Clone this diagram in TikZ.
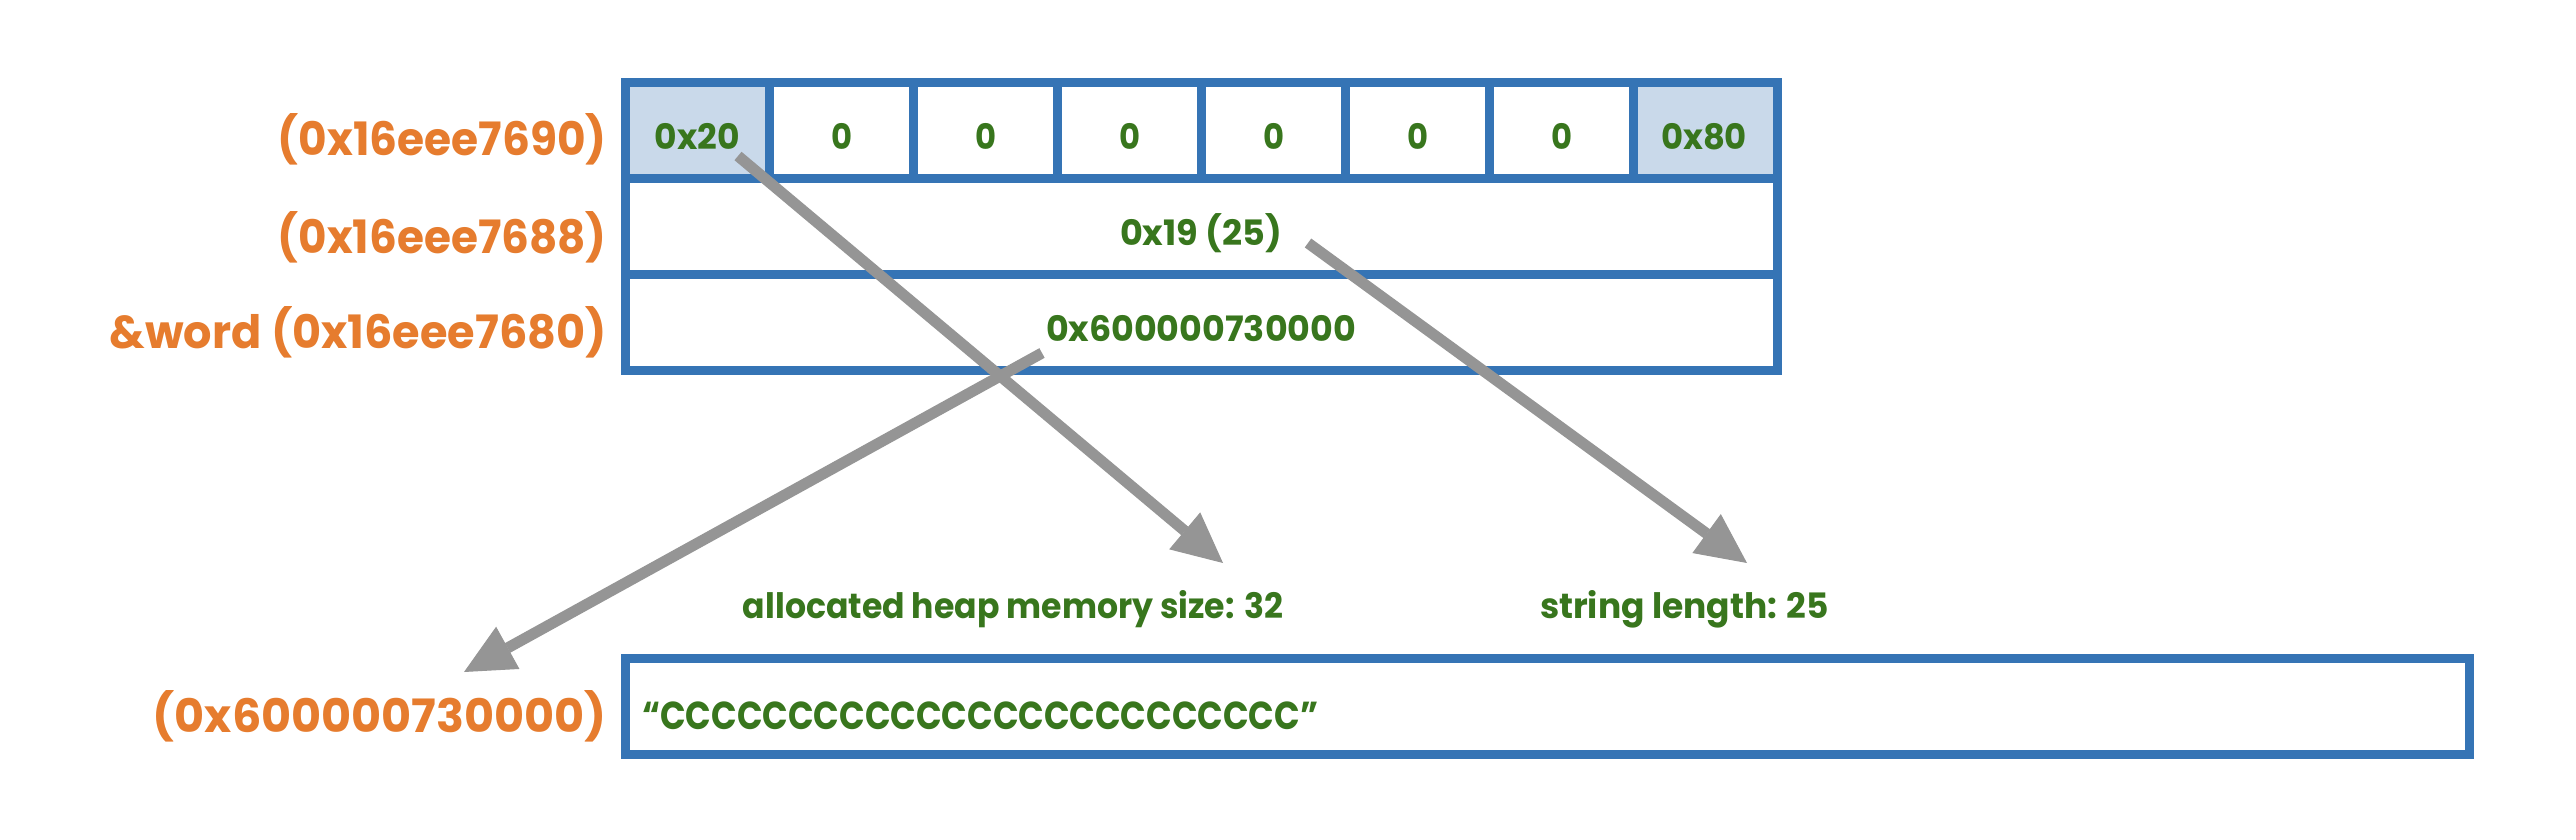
\documentclass[tikz,border=0pt]{standalone}
\usepackage{fontspec}
\setmainfont{Poppins}
\usetikzlibrary{arrows.meta}
\definecolor{cblue}{HTML}{3574B5}
\definecolor{cfill}{HTML}{C9D9EA}
\definecolor{cgreen}{HTML}{38761D}
\definecolor{corange}{HTML}{E67C2E}
\definecolor{cgray}{HTML}{959595}
\newcommand\fw[2]{\resizebox{#1}{\height}{#2}}
\begin{document}
\begin{tikzpicture}[x=1pt,y=-1pt,
  cell/.style={draw=cblue, line width=9pt, minimum width=144pt, minimum height=96pt, inner sep=0pt, outer sep=0pt},
  hl/.style={fill=cfill},
  val/.style={text=cgreen, font=\fontsize{35}{35}\selectfont\bfseries, anchor=base, inner sep=0pt},
  addr/.style={text=corange, font=\fontsize{46}{46}\selectfont\bfseries, anchor=base east, inner sep=0pt},
  arr/.style={draw=cgray, line width=11pt, -{Triangle[length=50pt,width=48pt,line width=1pt]}}]
\useasboundingbox (0,0) rectangle (2576,840);
\fill[white] (0,0) rectangle (2576,840);
% row 1 cells
\node[cell,hl] (c1) at (697.5,130.5) {};
\node[cell] (c2) at (841.5,130.5) {};
\node[cell] (c3) at (985.5,130.5) {};
\node[cell] (c4) at (1129.5,130.5) {};
\node[cell] (c5) at (1273.5,130.5) {};
\node[cell] (c6) at (1417.5,130.5) {};
\node[cell] (c7) at (1561.5,130.5) {};
\node[cell,hl] (c8) at (1705.5,130.5) {};
% rows 2 and 3
\node[cell, minimum width=1152pt] (r2) at (1201.5,226.5) {};
\node[cell, minimum width=1152pt] (r3) at (1201.5,322.5) {};
% heap string box
\node[cell, minimum width=1844pt] (sb) at (1547.5,706) {};
% values
\node[val] (v1) at (697,150) {\fw{85pt}{0x20}};
\node[val] (v2) at (841.5,150) {\fw{21pt}{0}};
\node[val] (v3) at (985.5,150) {\fw{21pt}{0}};
\node[val] (v4) at (1129.5,150) {\fw{21pt}{0}};
\node[val] (v5) at (1273.5,150) {\fw{21pt}{0}};
\node[val] (v6) at (1417.5,150) {\fw{21pt}{0}};
\node[val] (v7) at (1561.5,150) {\fw{21pt}{0}};
\node[val] (v8) at (1704,150) {\fw{86pt}{0x80}};
\node[val] (v9) at (1201,245.5) {\fw{162pt}{0x19 (25)}};
\node[val] (v10) at (1201,341.5) {\fw{310pt}{0x600000730000}};
% addresses
\node[addr] (l1) at (607,156) {\fw{329pt}{(0x16eee7690)}};
\node[addr] (l2) at (607,253) {\fw{329pt}{(0x16eee7688)}};
\node[addr] (l3) at (607,348) {\fw{497pt}{\&word (0x16eee7680)}};
\node[addr] (l4) at (607,732) {\fw{454pt}{(0x600000730000)}};
% notes
\node[val] (n1) at (1013,618) {\fw{540pt}{allocated heap memory size: 32}};
\node[val] (n2) at (1684.5,618) {\fw{289pt}{string length: 25}};
% string
\node[val, anchor=base west, font=\fontsize{39}{39}\selectfont\bfseries] (s) at (642,729) {\fw{676pt}{“CCCCCCCCCCCCCCCCCCCCCCCCC”}};
% arrows
\coordinate (a1s) at (738,156);
\coordinate (a1e) at (1223,563);
\coordinate (a2s) at (1308,243);
\coordinate (a2e) at (1747,563);
\coordinate (a3s) at (1042,353);
\coordinate (a3e) at (464,672);
\draw[arr] (a1s) -- (a1e);
\draw[arr] (a2s) -- (a2e);
\draw[arr] (a3s) -- (a3e);
\end{tikzpicture}
\end{document}
